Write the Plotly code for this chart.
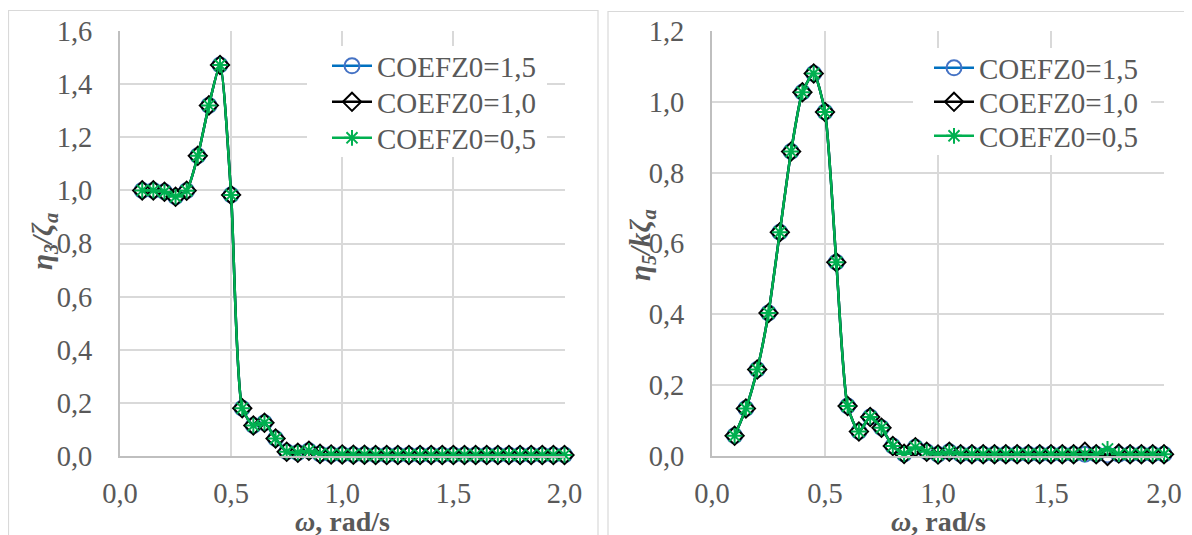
import plotly.graph_objects as go

omega = [0.10, 0.15, 0.20, 0.25, 0.30, 0.35, 0.40, 0.45, 0.50, 0.55,
         0.60, 0.65, 0.70, 0.75, 0.80, 0.85, 0.90, 0.95, 1.00, 1.05,
         1.10, 1.15, 1.20, 1.25, 1.30, 1.35, 1.40, 1.45, 1.50, 1.55,
         1.60, 1.65, 1.70, 1.75, 1.80, 1.85, 1.90, 1.95, 2.00]

# Heave RAO  eta3/zeta_a
heave_15 = [1.00, 1.00, 0.995, 0.976, 0.999, 1.13, 1.32, 1.472, 0.983, 0.18,
            0.115, 0.125, 0.066, 0.016, 0.012, 0.02, 0.008, 0.006, 0.006, 0.005,
            0.005, 0.004, 0.004, 0.004, 0.004, 0.004, 0.004, 0.004, 0.004, 0.004,
            0.004, 0.004, 0.004, 0.004, 0.004, 0.004, 0.004, 0.004, 0.004]
heave_10 = [1.00, 1.00, 0.995, 0.976, 0.999, 1.13, 1.32, 1.472, 0.983, 0.18,
            0.115, 0.125, 0.066, 0.016, 0.012, 0.02, 0.008, 0.006, 0.006, 0.005,
            0.005, 0.004, 0.004, 0.004, 0.004, 0.004, 0.004, 0.004, 0.004, 0.004,
            0.004, 0.004, 0.004, 0.004, 0.004, 0.004, 0.004, 0.004, 0.004]
heave_05 = [1.00, 1.00, 0.995, 0.976, 0.999, 1.13, 1.32, 1.472, 0.983, 0.18,
            0.115, 0.125, 0.066, 0.016, 0.012, 0.02, 0.008, 0.006, 0.006, 0.005,
            0.005, 0.004, 0.004, 0.004, 0.004, 0.004, 0.004, 0.004, 0.004, 0.004,
            0.004, 0.004, 0.004, 0.004, 0.004, 0.004, 0.004, 0.004, 0.004]

# Pitch RAO  eta5/(k zeta_a)
pitch_15 = [0.057, 0.134, 0.244, 0.404, 0.632, 0.86, 1.027, 1.08, 0.971, 0.547,
            0.141, 0.069, 0.11, 0.08, 0.028, 0.006, 0.025, 0.012, 0.004, 0.012,
            0.005, 0.005, 0.005, 0.005, 0.005, 0.005, 0.005, 0.005, 0.005, 0.005,
            0.005, 0.005, 0.005, 0.003, 0.005, 0.005, 0.005, 0.005, 0.005]
pitch_10 = [0.057, 0.134, 0.244, 0.404, 0.632, 0.86, 1.027, 1.08, 0.971, 0.547,
            0.141, 0.069, 0.11, 0.08, 0.028, 0.006, 0.025, 0.012, 0.004, 0.012,
            0.005, 0.005, 0.005, 0.005, 0.005, 0.005, 0.005, 0.005, 0.005, 0.005,
            0.005, 0.012, 0.005, 0.000, 0.007, 0.005, 0.005, 0.005, 0.005]
pitch_05 = [0.057, 0.134, 0.244, 0.404, 0.632, 0.86, 1.027, 1.08, 0.971, 0.547,
            0.141, 0.069, 0.11, 0.08, 0.028, 0.006, 0.025, 0.012, 0.004, 0.012,
            0.005, 0.005, 0.005, 0.005, 0.005, 0.005, 0.005, 0.005, 0.005, 0.005,
            0.005, 0.005, 0.005, 0.02, 0.005, 0.005, 0.005, 0.005, 0.005]

series_names = ["COEFZ0=1,5", "COEFZ0=1,0", "COEFZ0=0,5"]
line_colors = ["#0070C0", "#000000", "#00B050"]
marker_colors = ["#4472C4", "#000000", "#00B050"]
symbols = ["circle-open", "diamond-open", "asterisk-open"]
sizes = [15, 14, 13]

# page body has an 8px offset; figure occupies the remaining area
OFF = 8
W, H = 1192 - OFF, 535 - OFF
FONT = "Liberation Serif, Times New Roman, serif"
GRAY = "#595959"

def px_x(p):
    return (p - OFF) / W

def px_y(p):
    return 1 - (p - OFF) / H

fig = go.Figure()

# one legend per row so the row spacing matches the reference
panels = [
    ([heave_15, heave_10, heave_05], "x", "y", ["legend", "legend2", "legend3"]),
    ([pitch_15, pitch_10, pitch_05], "x2", "y2", ["legend4", "legend5", "legend6"]),
]
for data, xa, ya, lgs in panels:
    for i, ys in enumerate(data):
        fig.add_trace(go.Scatter(
            x=omega, y=ys, name=series_names[i], mode="lines+markers",
            xaxis=xa, yaxis=ya, legend=lgs[i], cliponaxis=False,
            line=dict(color=line_colors[i], width=2.5, shape="spline", smoothing=0.6),
            marker=dict(symbol=symbols[i], size=sizes[i], color=marker_colors[i],
                        line=dict(width=2, color=marker_colors[i])),
        ))

axis_common = dict(
    showgrid=True, gridcolor="#D9D9D9", gridwidth=2,
    showline=True, linecolor="#BFBFBF", linewidth=2,
    zeroline=False, ticks="", tickformat=".1f", automargin=False,
    tickfont=dict(family=FONT, size=28.5, color=GRAY),
)

ydom = [px_y(456), px_y(31)]
LEGFONT = dict(family=FONT, size=29, color=GRAY)
TFONT = dict(family=FONT, size=28, color=GRAY)
YTFONT = dict(family=FONT, size=29, color=GRAY)

def leg(xp, yp):
    return dict(x=px_x(xp), y=px_y(yp), xanchor="left", yanchor="middle",
                bgcolor="rgba(0,0,0,0)", borderwidth=0, font=LEGFONT,
                tracegroupgap=0, itemwidth=40)

def white_box(x0, x1, y0, y1):
    return dict(type="rect", xref="paper", yref="paper",
                x0=px_x(x0), x1=px_x(x1), y0=px_y(y1), y1=px_y(y0),
                line=dict(width=0), fillcolor="white", layer="above")

fig.update_layout(
    template="none",
    width=W, height=H,
    margin=dict(l=0, r=0, t=0, b=0, pad=0, autoexpand=False),
    paper_bgcolor="white", plot_bgcolor="white",
    separators=", ",
    showlegend=True,
    xaxis=dict(domain=[px_x(120), px_x(564.5)], range=[0, 2], dtick=0.5, anchor="y",
               ticklabelstandoff=11, **axis_common),
    yaxis=dict(domain=ydom, range=[0, 1.6], dtick=0.2, anchor="x",
               ticklabelstandoff=20, **axis_common),
    xaxis2=dict(domain=[px_x(712), px_x(1164)], range=[0, 2], dtick=0.5, anchor="y2",
                ticklabelstandoff=11, **axis_common),
    yaxis2=dict(domain=ydom, range=[0, 1.2], dtick=0.2, anchor="x2",
                ticklabelstandoff=20, **axis_common),
    legend=leg(327, 66),
    legend2=leg(327, 102),
    legend3=leg(327, 138),
    legend4=leg(929, 68),
    legend5=leg(929, 102),
    legend6=leg(929, 136),
    shapes=[
        dict(type="rect", xref="paper", yref="paper",
             x0=px_x(8.5), x1=px_x(598), y0=-0.05, y1=px_y(10.5),
             line=dict(color="#D9D9D9", width=1.2), fillcolor="rgba(0,0,0,0)", layer="below"),
        dict(type="rect", xref="paper", yref="paper",
             x0=px_x(608), x1=px_x(1190), y0=-0.05, y1=px_y(11.5),
             line=dict(color="#D9D9D9", width=1.2), fillcolor="rgba(0,0,0,0)", layer="below"),
        white_box(307, 547, 46, 157),
        white_box(913, 1151, 48, 155),
    ],
    annotations=[
        dict(text="<b><i>ω</i>, rad/s</b>", x=px_x(342), y=px_y(521), xref="paper", yref="paper",
             showarrow=False, xanchor="center", yanchor="middle", font=TFONT),
        dict(text="<b><i>ω</i>, rad/s</b>", x=px_x(938), y=px_y(521), xref="paper", yref="paper",
             showarrow=False, xanchor="center", yanchor="middle", font=TFONT),
        dict(text="<b><i>η</i><sub><i>3</i></sub><i>/ζ</i><sub><i>a</i></sub></b>",
             x=px_x(44), y=px_y(242), xref="paper", yref="paper", textangle=-90,
             showarrow=False, xanchor="center", yanchor="middle", font=YTFONT),
        dict(text="<b><i>η</i><sub><i>5</i></sub><i>/kζ</i><sub><i>a</i></sub></b>",
             x=px_x(642), y=px_y(245), xref="paper", yref="paper", textangle=-90,
             showarrow=False, xanchor="center", yanchor="middle", font=YTFONT),
    ],
)

fig.write_html("out.html")
